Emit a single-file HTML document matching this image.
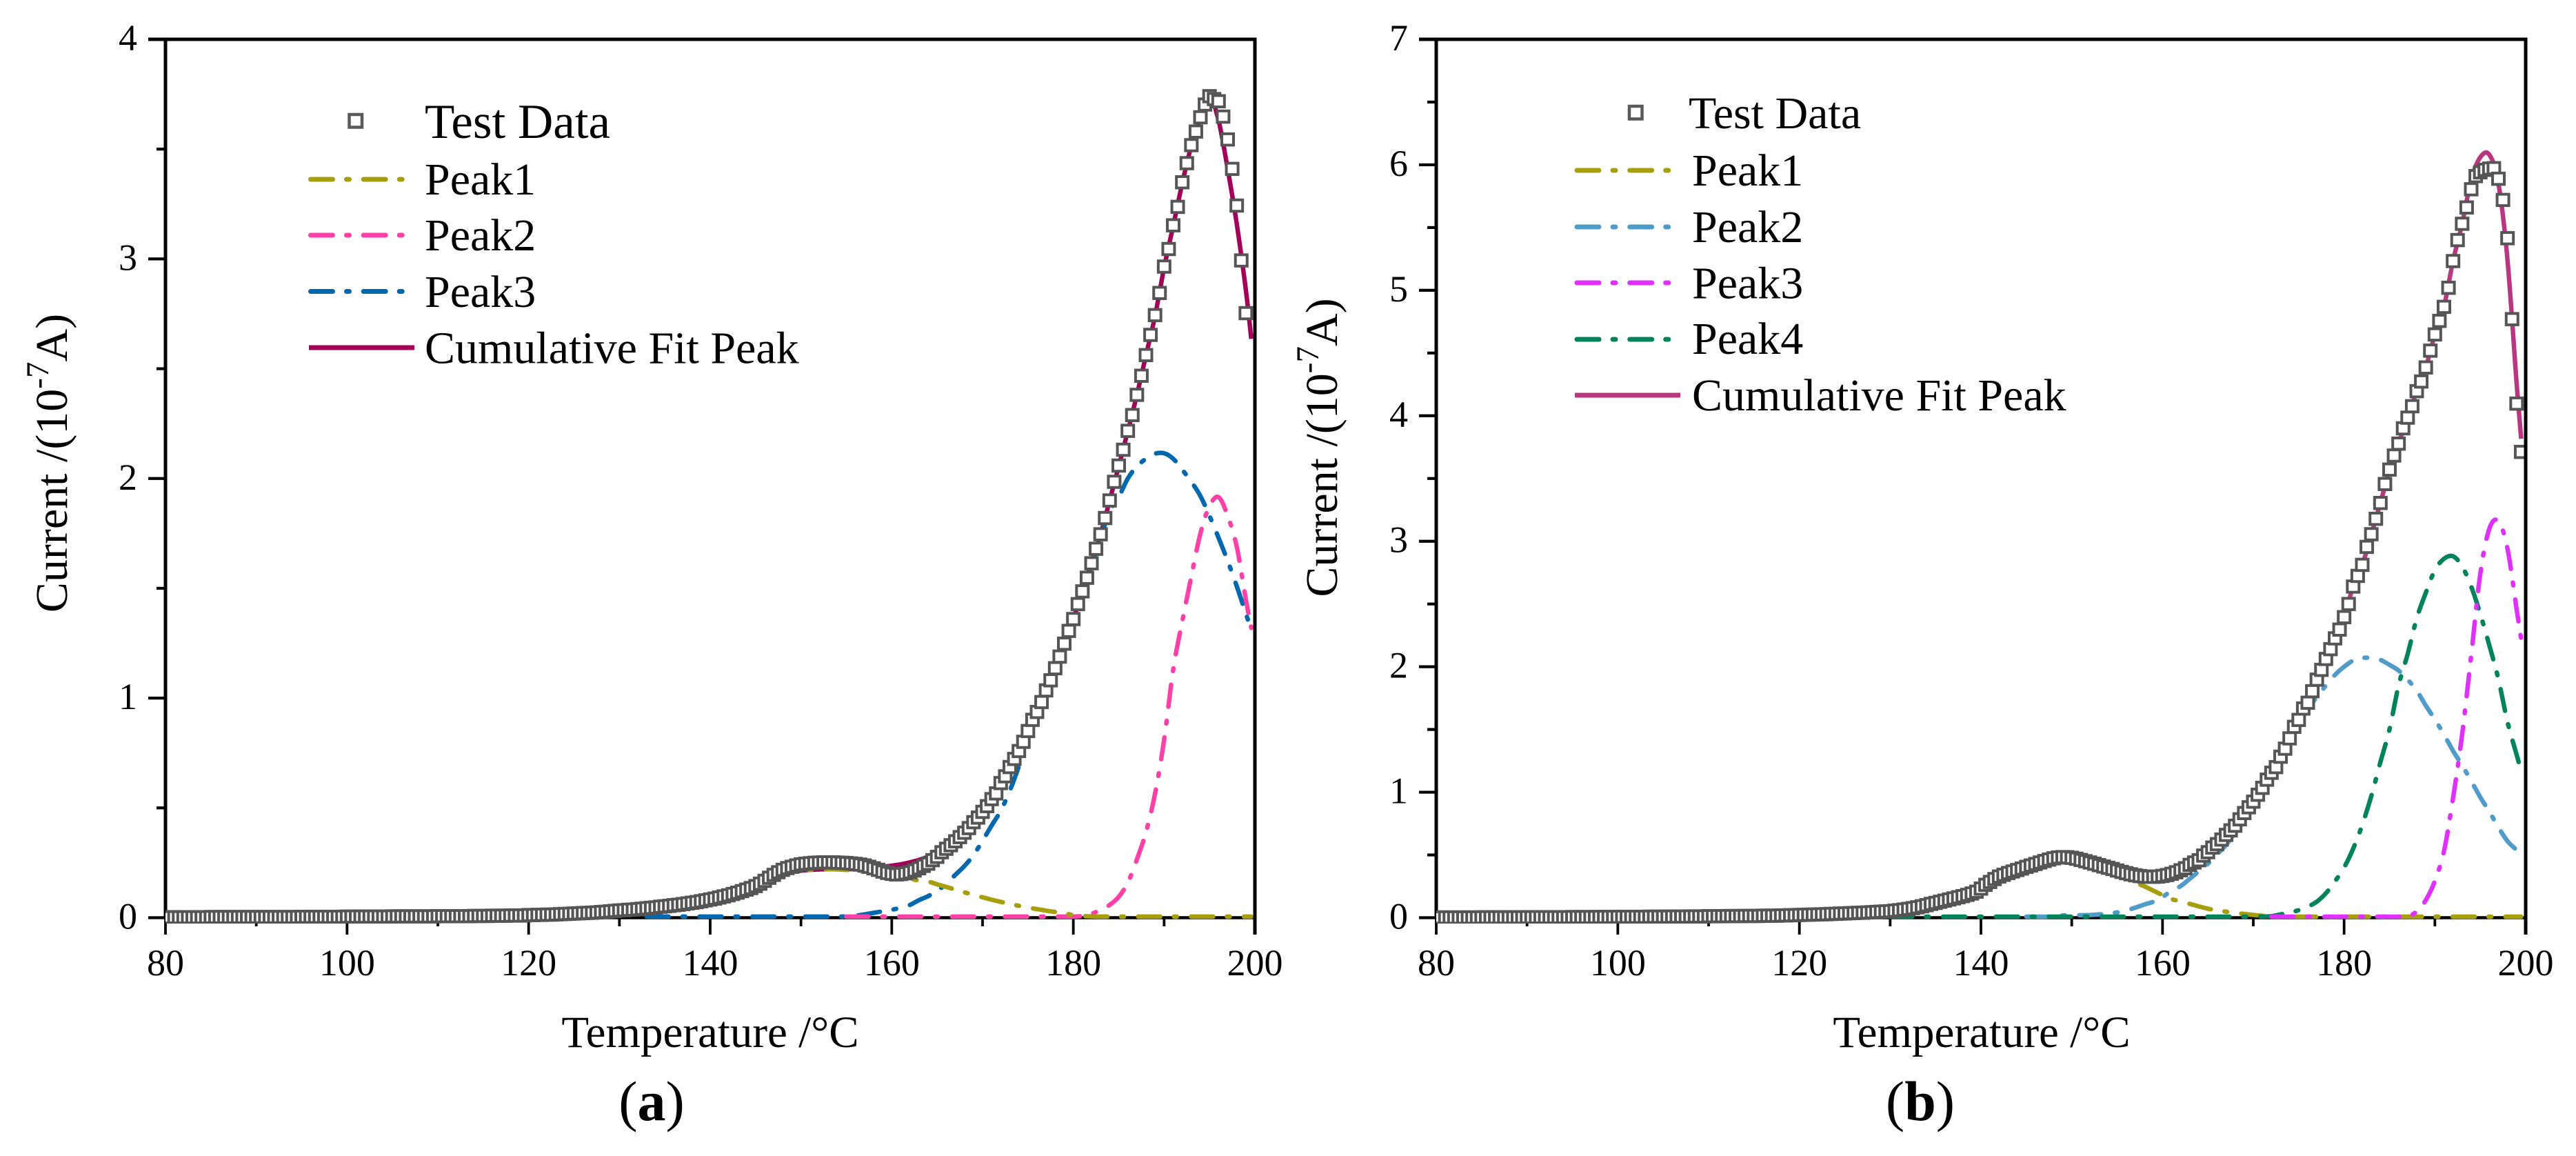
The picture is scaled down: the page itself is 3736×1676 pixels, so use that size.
<!DOCTYPE html>
<html lang="en">
<head>
<meta charset="utf-8">
<title>Current versus temperature peak fits</title>
<style>
  html, body { margin: 0; padding: 0; background: #ffffff; }
  body { width: 3736px; height: 1676px; overflow: hidden; }
  svg { display: block; }
  text { font-family: "Liberation Serif", "Times New Roman", serif; fill: #000000; }
</style>
</head>
<body>
<svg id="figure" xmlns="http://www.w3.org/2000/svg" width="3736" height="1676" viewBox="0 0 3736 1676">
  <rect x="0" y="0" width="3736" height="1676" fill="#ffffff"/>
  <defs>
    <clipPath id="clip-a"><rect x="240" y="57" width="1578" height="1282"/></clipPath>
    <clipPath id="clip-b"><rect x="2083" y="57" width="1578" height="1282"/></clipPath>
  </defs>

  <g id="panel-a">
    <g id="a-axes"></g>
    <g id="a-marks"></g>
    <g id="a-front"></g>
    <text x="1030" y="1518" font-size="65" text-anchor="middle">Temperature /°C</text>
    <text transform="translate(97,671.5) rotate(-90)" font-size="66" text-anchor="middle">Current /(10<tspan dy="-27" font-size="47">-7</tspan><tspan dy="27">A)</tspan></text>
    <text x="945" y="1624" font-size="82" text-anchor="middle">(<tspan font-weight="bold">a</tspan>)</text>
    <g>
      <rect x="506.5" y="166" width="18.5" height="18.5" fill="#ffffff" stroke="#5a5a5a" stroke-width="4.5"/>
      <text x="616" y="200" font-size="71">Test Data</text>
      <line x1="450.5" y1="260" x2="587" y2="260" stroke="#a89e0c" stroke-width="7" stroke-linecap="round" stroke-dasharray="32 20 4 20.7"/>
      <text x="616" y="282" font-size="66">Peak1</text>
      <line x1="450.5" y1="341" x2="587" y2="341" stroke="#ff40a8" stroke-width="7" stroke-linecap="round" stroke-dasharray="32 20 4 20.7"/>
      <text x="616" y="363" font-size="66">Peak2</text>
      <line x1="450.5" y1="422.5" x2="587" y2="422.5" stroke="#0068ae" stroke-width="7" stroke-linecap="round" stroke-dasharray="32 20 4 20.7"/>
      <text x="616" y="445" font-size="66">Peak3</text>
      <line x1="448" y1="504" x2="601" y2="504" stroke="#a3005a" stroke-width="7"/>
      <text x="616" y="526.5" font-size="66">Cumulative Fit Peak</text>
    </g>
  </g>

  <g id="panel-b">
    <g id="b-axes"></g>
    <g id="b-marks"></g>
    <g id="b-front"></g>
    <text x="2874" y="1518" font-size="65" text-anchor="middle">Temperature /°C</text>
    <text transform="translate(1939,649) rotate(-90)" font-size="66" text-anchor="middle">Current /(10<tspan dy="-27" font-size="47">-7</tspan><tspan dy="27">A)</tspan></text>
    <text x="2785" y="1624" font-size="82" text-anchor="middle">(<tspan font-weight="bold">b</tspan>)</text>
    <g>
      <rect x="2363" y="154" width="18.5" height="18.5" fill="#ffffff" stroke="#5a5a5a" stroke-width="4.5"/>
      <text x="2449" y="186" font-size="66">Test Data</text>
      <line x1="2287" y1="247" x2="2423" y2="247" stroke="#a89e0c" stroke-width="7" stroke-linecap="round" stroke-dasharray="32 20 4 20.7"/>
      <text x="2454" y="269" font-size="66">Peak1</text>
      <line x1="2287" y1="329" x2="2423" y2="329" stroke="#4f9ccb" stroke-width="7" stroke-linecap="round" stroke-dasharray="32 20 4 20.7"/>
      <text x="2454" y="351" font-size="66">Peak2</text>
      <line x1="2287" y1="410" x2="2423" y2="410" stroke="#e030ff" stroke-width="7" stroke-linecap="round" stroke-dasharray="32 20 4 20.7"/>
      <text x="2454" y="432.5" font-size="66">Peak3</text>
      <line x1="2287" y1="492" x2="2423" y2="492" stroke="#00835a" stroke-width="7" stroke-linecap="round" stroke-dasharray="32 20 4 20.7"/>
      <text x="2454" y="513" font-size="66">Peak4</text>
      <line x1="2284" y1="573" x2="2437" y2="573" stroke="#b93683" stroke-width="7"/>
      <text x="2454" y="595" font-size="66">Cumulative Fit Peak</text>
    </g>
  </g>
</svg>

<script>
const xTickLabels = [80, 100, 120, 140, 160, 180, 200];
const xMinorTicks = [90, 110, 130, 150, 170, 190];
const aYTickLabels = [0, 1, 2, 3, 4];
const aYMinorTicks = [0.5, 1.5, 2.5, 3.5];
const bYTickLabels = [0, 1, 2, 3, 4, 5, 6, 7];
const bYMinorTicks = [0.5, 1.5, 2.5, 3.5, 4.5, 5.5, 6.5];

const testTemps = [
80,80.5,81,81.5,82,82.5,83,83.5,84,84.5,85,85.5,86,86.5,87,87.5,88,88.5,89,89.5,
90,90.5,91,91.5,92,92.5,93,93.5,94,94.5,95,95.5,96,96.5,97,97.5,98,98.5,99,99.5,
100,100.5,101,101.5,102,102.5,103,103.5,104,104.5,105,105.5,106,106.5,107,107.5,108,108.5,109,109.5,
110,110.5,111,111.5,112,112.5,113,113.5,114,114.5,115,115.5,116,116.5,117,117.5,118,118.5,119,119.5,
120,120.5,121,121.5,122,122.5,123,123.5,124,124.5,125,125.5,126,126.5,127,127.5,128,128.5,129,129.5,
130,130.5,131,131.5,132,132.5,133,133.5,134,134.5,135,135.5,136,136.5,137,137.5,138,138.5,139,139.5,
140,140.5,141,141.5,142,142.5,143,143.5,144,144.5,145,145.5,146,146.5,147,147.5,148,148.5,149,149.5,
150,150.5,151,151.5,152,152.5,153,153.5,154,154.5,155,155.5,156,156.5,157,157.5,158,158.5,159,159.5,
160,160.5,161,161.5,162,162.5,163,163.5,164,164.5,165,165.5,166,166.5,167,167.5,168,168.5,169,169.5,
170,170.5,171,171.5,172,172.5,173,173.5,174,174.5,175,175.5,176,176.5,177,177.5,178,178.5,179,179.5,
180,180.5,181,181.5,182,182.5,183,183.5,184,184.5,185,185.5,186,186.5,187,187.5,188,188.5,189,189.5,
190,190.5,191,191.5,192,192.5,193,193.5,194,194.5,195,195.5,196,196.5,197,197.5,198,198.5,199,199.5];

const aTestValues = [
.002,.002,.002,.002,.002,.002,.002,.002,.002,.002,.003,.003,.003,.003,.003,.003,.003,.003,.003,.003,
.003,.003,.003,.003,.003,.003,.003,.003,.003,.003,.004,.004,.004,.004,.004,.004,.004,.004,.004,.004,
.005,.005,.005,.005,.005,.005,.005,.005,.005,.005,.006,.006,.006,.006,.006,.006,.006,.006,.006,.006,
.007,.007,.007,.007,.007,.007,.007,.007,.008,.008,.008,.008,.009,.009,.009,.009,.01,.01,.01,.01,
.012,.012,.013,.013,.014,.014,.015,.016,.017,.018,.019,.02,.021,.022,.023,.024,.026,.027,.029,.031,
.033,.034,.036,.037,.039,.041,.043,.045,.047,.05,.052,.054,.057,.059,.062,.065,.068,.071,.075,.079,
.083,.087,.092,.097,.102,.108,.114,.121,.128,.135,.144,.155,.168,.182,.195,.207,.218,.226,.232,.238,
.243,.246,.248,.25,.251,.252,.252,.252,.251,.25,.249,.247,.245,.242,.238,.232,.225,.218,.21,.204,
.2,.197,.199,.202,.207,.215,.225,.236,.246,.262,.277,.298,.314,.33,.348,.367,.387,.408,.435,.456,
.482,.508,.54,.566,.613,.644,.686,.723,.759,.801,.85,.901,.937,.982,1.035,1.081,1.136,1.189,1.248,1.306,
1.36,1.428,1.486,1.548,1.614,1.68,1.746,1.82,1.9,1.985,2.059,2.131,2.217,2.289,2.381,2.468,2.562,2.654,2.744,2.845,
2.965,3.045,3.153,3.237,3.349,3.436,3.518,3.58,3.645,3.703,3.741,3.728,3.718,3.648,3.544,3.41,3.243,2.993,2.753];

const bTestValues = [
.002,.002,.002,.002,.002,.002,.002,.002,.002,.002,.003,.003,.003,.003,.003,.003,.003,.003,.003,.003,
.004,.004,.004,.004,.004,.004,.004,.004,.004,.004,.005,.005,.005,.005,.005,.005,.006,.006,.006,.006,
.007,.007,.007,.007,.007,.007,.007,.008,.008,.008,.008,.008,.009,.009,.009,.009,.01,.01,.01,.01,
.012,.012,.012,.012,.013,.013,.013,.013,.014,.014,.014,.014,.016,.016,.016,.016,.018,.018,.02,.02,
.022,.023,.024,.025,.026,.027,.028,.03,.031,.033,.034,.036,.037,.039,.04,.042,.044,.046,.048,.05,
.052,.056,.06,.065,.07,.076,.083,.091,.1,.11,.118,.127,.136,.145,.154,.163,.172,.182,.193,.207,
.232,.262,.285,.308,.328,.342,.356,.368,.38,.392,.405,.416,.428,.44,.452,.463,.473,.48,.483,.482,
.477,.47,.46,.45,.44,.43,.419,.408,.398,.388,.376,.365,.355,.346,.338,.332,.328,.326,.326,.328,
.333,.34,.35,.362,.378,.394,.421,.44,.458,.495,.522,.559,.586,.623,.66,.696,.733,.784,.834,.88,
.925,.98,1.035,1.1,1.155,1.2,1.283,1.347,1.429,1.521,1.576,1.667,1.713,1.805,1.897,1.975,2.062,2.14,2.226,2.296,
2.395,2.5,2.639,2.724,2.812,2.955,3.056,3.179,3.305,3.456,3.571,3.683,3.778,3.9,3.985,4.076,4.196,4.273,4.385,4.519,
4.648,4.756,4.868,5.02,5.233,5.4,5.53,5.66,5.805,5.91,5.94,5.96,5.97,5.973,5.889,5.72,5.415,4.77,4.097,3.712];

const aFitTemps = [
130,131,132,133,134,135,136,137,138,139,140,141,142,143,144,145,146,147,148,149,
150,151,152,153,154,155,156,157,158,159,160,161,162,163,164,165,166,167,168,169,
170,171,172,173,174,175,176,177,178,179,180,181,182,183,184,185,186,187,188,189,
190,191,192,193,194,195,196,197,198,199,199.6];

const bFitTemps = [
130,131,132,133,134,135,136,137,138,139,140,141,142,143,144,145,146,147,148,149,
150,151,152,153,154,155,156,157,158,159,160,161,162,163,164,165,166,167,168,169,
170,171,172,173,174,175,176,177,178,179,180,181,182,183,184,185,186,187,188,189,
190,191,192,193,194,195,196,197,198,199,199.5];

const aPeak1 = [
.03,.033,.037,.042,.047,.053,.06,.068,.077,.087,.098,.11,.123,.137,.151,.165,.178,.19,.2,.208,
.214,.218,.22,.221,.22,.218,.214,.209,.203,.197,.19,.183,.176,.17,.165,.152,.14,.128,.116,.104,
.093,.082,.072,.063,.054,.046,.039,.032,.026,.02,.012,.008,.006,.005,.005,.005,.005,.005,.005,.005,
.005,.005,.005,.005,.005,.005,.005,.005,.005,.005,.005];

const aPeak2 = [
null,null,null,null,null,null,null,null,null,null,null,null,null,null,null,null,null,null,null,null,
null,null,null,null,null,.005,.005,.005,.005,.005,.005,.005,.005,.005,.005,.005,.005,.005,.005,.005,
.005,.005,.005,.005,.005,.005,.005,.005,.005,.005,.005,.008,.018,.035,.058,.095,.16,.265,.39,.565,
.81,1.13,1.35,1.555,1.75,1.875,1.915,1.83,1.69,1.45,1.32];

const aPeak3 = [
null,null,null,.005,.005,.005,.005,.005,.005,.005,.005,.005,.005,.005,.005,.005,.005,.005,.005,.005,
.005,.005,.005,.005,.005,.006,.009,.015,.022,.029,.036,.046,.058,.08,.098,.122,.155,.195,.235,.285,
.35,.42,.487,.578,.69,.82,.94,1.04,1.14,1.245,1.36,1.47,1.6,1.73,1.85,1.915,2.0,2.055,2.09,2.113,
2.115,2.09,2.04,1.985,1.92,1.83,1.73,1.625,1.51,1.385,1.313];

const aCumulative = [
.03,.033,.037,.042,.047,.053,.06,.068,.077,.087,.098,.11,.123,.137,.151,.165,.178,.19,.2,.208,
.214,.218,.22,.221,.221,.221,.222,.224,.227,.232,.237,.243,.252,.263,.278,.296,.318,.345,.378,.418,
.465,.52,.585,.66,.745,.84,.94,1.04,1.14,1.245,1.36,1.485,1.615,1.745,1.9,2.055,2.215,2.38,2.56,2.74,
2.96,3.15,3.345,3.515,3.64,3.74,3.63,3.41,3.16,2.86,2.636];

const bPeak1 = [
.05,.058,.068,.082,.1,.118,.136,.155,.175,.2,.235,.285,.33,.36,.385,.41,.43,.45,.465,.47,
.46,.44,.42,.4,.375,.35,.32,.28,.25,.215,.18,.148,.13,.11,.09,.072,.058,.048,.038,.03,
.022,.015,.009,.008,.008,.008,.008,.008,.008,.008,.008,.008,.008,.008,.008,.008,.008,.008,.008,.008,
.008,.008,.008,.008,.008,.008,.008,.008,.008,.008,.008];

const bPeak2 = [
null,null,null,null,null,null,null,null,null,null,null,null,null,null,null,.008,.008,.008,.01,.018,
.02,.02,.021,.026,.034,.042,.058,.08,.105,.128,.165,.215,.252,.31,.37,.43,.505,.58,.68,.79,
.91,1.04,1.17,1.3,1.43,1.55,1.66,1.76,1.85,1.935,2.0,2.05,2.07,2.07,2.055,2.015,1.97,1.897,1.81,1.69,
1.58,1.46,1.33,1.215,1.09,.96,.845,.72,.61,.54,.51];

const bPeak3 = [
null,null,null,null,null,null,null,null,null,null,null,null,null,null,null,null,null,null,null,null,
null,null,null,null,null,null,null,null,null,null,null,null,null,null,null,null,null,null,null,null,
null,null,.008,.008,.008,.008,.008,.008,.008,.008,.008,.008,.008,.008,.008,.008,.008,.01,.05,.14,
.293,.53,.953,1.46,2.09,2.74,3.1,3.16,2.94,2.46,2.22];

const bPeak4 = [
.008,.008,.008,.008,.008,.008,.008,.008,.008,.008,.008,.008,.008,.008,.008,.008,.008,.008,.008,.008,
.008,.008,.008,.008,.008,.008,.008,.008,.008,.008,.008,.008,.008,.008,.008,.008,.008,.008,.008,.008,
.008,.009,.012,.026,.04,.06,.088,.128,.195,.29,.4,.55,.74,.97,1.24,1.5,1.85,2.1,2.385,2.589,
2.77,2.86,2.88,2.8,2.64,2.42,2.17,1.9,1.56,1.3,1.17];

const bCumulative = [
.05,.058,.068,.082,.1,.118,.136,.155,.175,.2,.235,.285,.33,.36,.385,.41,.43,.45,.47,.48,
.475,.46,.44,.42,.4,.378,.358,.34,.33,.326,.333,.35,.378,.42,.46,.52,.585,.66,.733,.834,
.925,1.035,1.155,1.283,1.43,1.576,1.713,1.897,2.04,2.215,2.395,2.64,2.81,3.055,3.305,3.57,3.78,3.985,4.196,4.385,
4.65,4.87,5.233,5.53,5.88,6.06,6.08,5.85,5.24,4.26,3.817];

const NS = 'http://www.w3.org/2000/svg';
const DASH = '32 20 4 20.7';

function make(tag, parent, props) {
  const node = document.createElementNS(NS, tag);
  for (const key in props) node.setAttribute(key, props[key]);
  parent.appendChild(node);
  return node;
}

function smoothPath(points) {
  let d = 'M' + points[0][0].toFixed(2) + ' ' + points[0][1].toFixed(2);
  for (let i = 0; i < points.length - 1; i++) {
    const p0 = points[Math.max(i - 1, 0)];
    const p1 = points[i];
    const p2 = points[i + 1];
    const p3 = points[Math.min(i + 2, points.length - 1)];
    const c1x = p1[0] + (p2[0] - p0[0]) / 6;
    const c1y = p1[1] + (p2[1] - p0[1]) / 6;
    const c2x = p2[0] - (p3[0] - p1[0]) / 6;
    const c2y = p2[1] - (p3[1] - p1[1]) / 6;
    d += 'C' + c1x.toFixed(2) + ' ' + c1y.toFixed(2) + ' ' + c2x.toFixed(2) + ' ' + c2y.toFixed(2) + ' ' + p2[0].toFixed(2) + ' ' + p2[1].toFixed(2);
  }
  return d;
}

function drawPanel(cfg) {
  const left = cfg.left, right = cfg.left + 1580, top = 57, bottom = 1330.5;
  const xScale = function (t) { return left + (t - 80) * (right - left) / 120; };
  const yScale = function (v) { return bottom - v * (bottom - top) / cfg.yMax; };
  const axes = document.getElementById(cfg.id + '-axes');
  const marks = document.getElementById(cfg.id + '-marks');
  const front = document.getElementById(cfg.id + '-front');

  const leftAxis = make('line', axes, { x1: left, y1: top - 2.5, x2: left, y2: bottom, stroke: '#000', 'stroke-width': 5 });
  
  
  const topAxis = make('line', axes, { x1: left, y1: top, x2: right + 2, y2: top, stroke: '#000', 'stroke-width': 5 });
  
  
  const bottomAxis = make('line', axes, { x1: left, y1: bottom, x2: right + 2, y2: bottom, stroke: '#000', 'stroke-width': 4.5 });
  
  

  xTickLabels.forEach(function (t) {
    const x = xScale(t);
    const tick = make('line', axes, { x1: x, y1: bottom, x2: x, y2: 1355, stroke: '#000', 'stroke-width': 3.8 });
    
    
    const label = make('text', axes, { x: x, y: 1414, 'font-size': 54, 'text-anchor': 'middle' });
    label.textContent = String(t);
    
    
  });
  xMinorTicks.forEach(function (t) {
    const x = xScale(t);
    const tick = make('line', axes, { x1: x, y1: bottom, x2: x, y2: 1343, stroke: '#000', 'stroke-width': 3.8 });
    
    
  });
  cfg.yLabels.forEach(function (v) {
    const y = yScale(v);
    const tick = make('line', axes, { x1: left - 25, y1: y, x2: left, y2: y, stroke: '#000', 'stroke-width': v === cfg.yMax ? 5 : 4.2 });
    
    
    const label = make('text', axes, { x: left - 41, y: y + 16, 'font-size': 54, 'text-anchor': 'end' });
    label.textContent = String(v);
    
    
  });
  cfg.yMinor.forEach(function (v) {
    const y = yScale(v);
    const tick = make('line', axes, { x1: left - 13, y1: y, x2: left, y2: y, stroke: '#000', 'stroke-width': 4.2 });
    
    
  });

  const cumPts = [];
  cfg.fitTemps.forEach(function (t, i) {
    if (cfg.cumulative[i] !== null) cumPts.push([xScale(t), yScale(cfg.cumulative[i])]);
  });
  const cumLine = make('path', marks, { d: smoothPath(cumPts), fill: 'none', stroke: cfg.cumColor, 'stroke-width': 6.5 });
  
  

  cfg.peaks.forEach(function (peak) {
    const pts = [];
    cfg.fitTemps.forEach(function (t, i) {
      if (peak.values[i] !== null) pts.push([xScale(t), yScale(peak.values[i])]);
    });
    const path = make('path', marks, { d: smoothPath(pts), fill: 'none', stroke: peak.color, 'stroke-width': 6.5, 'stroke-linecap': 'round', 'stroke-dasharray': DASH });
    
    
  });

  const dots = make('g', marks, { 'clip-path': 'url(#clip-' + cfg.id + ')' });
  
  
  cfg.testValues.forEach(function (v, i) {
    const cx = xScale(testTemps[i]);
    const cy = yScale(v);
    const dot = make('rect', dots, { x: cx - 8.5, y: cy - 8.25, width: 17, height: 16.5, fill: '#ffffff', stroke: '#555555', 'stroke-width': 4 });
    
    
  });

  const rightAxis = make('line', front, { x1: right, y1: top - 2.5, x2: right, y2: 1355, stroke: '#000', 'stroke-width': 5 });
  
  
}

drawPanel({
  id: 'a', left: 240, yMax: 4, yLabels: aYTickLabels, yMinor: aYMinorTicks,
  fitTemps: aFitTemps, testValues: aTestValues, cumulative: aCumulative, cumColor: '#a3005a',
  peaks: [
    { name: 'peak3-line', values: aPeak3, color: '#0068ae' },
    { name: 'peak2-line', values: aPeak2, color: '#ff40a8' },
    { name: 'peak1-line', values: aPeak1, color: '#a89e0c' }
  ]
});

drawPanel({
  id: 'b', left: 2083, yMax: 7, yLabels: bYTickLabels, yMinor: bYMinorTicks,
  fitTemps: bFitTemps, testValues: bTestValues, cumulative: bCumulative, cumColor: '#b93683',
  peaks: [
    { name: 'peak1-line', values: bPeak1, color: '#a89e0c' },
    { name: 'peak2-line', values: bPeak2, color: '#4f9ccb' },
    { name: 'peak4-line', values: bPeak4, color: '#00835a' },
    { name: 'peak3-line', values: bPeak3, color: '#e030ff' }
  ]
});
</script>
</body>
</html>
